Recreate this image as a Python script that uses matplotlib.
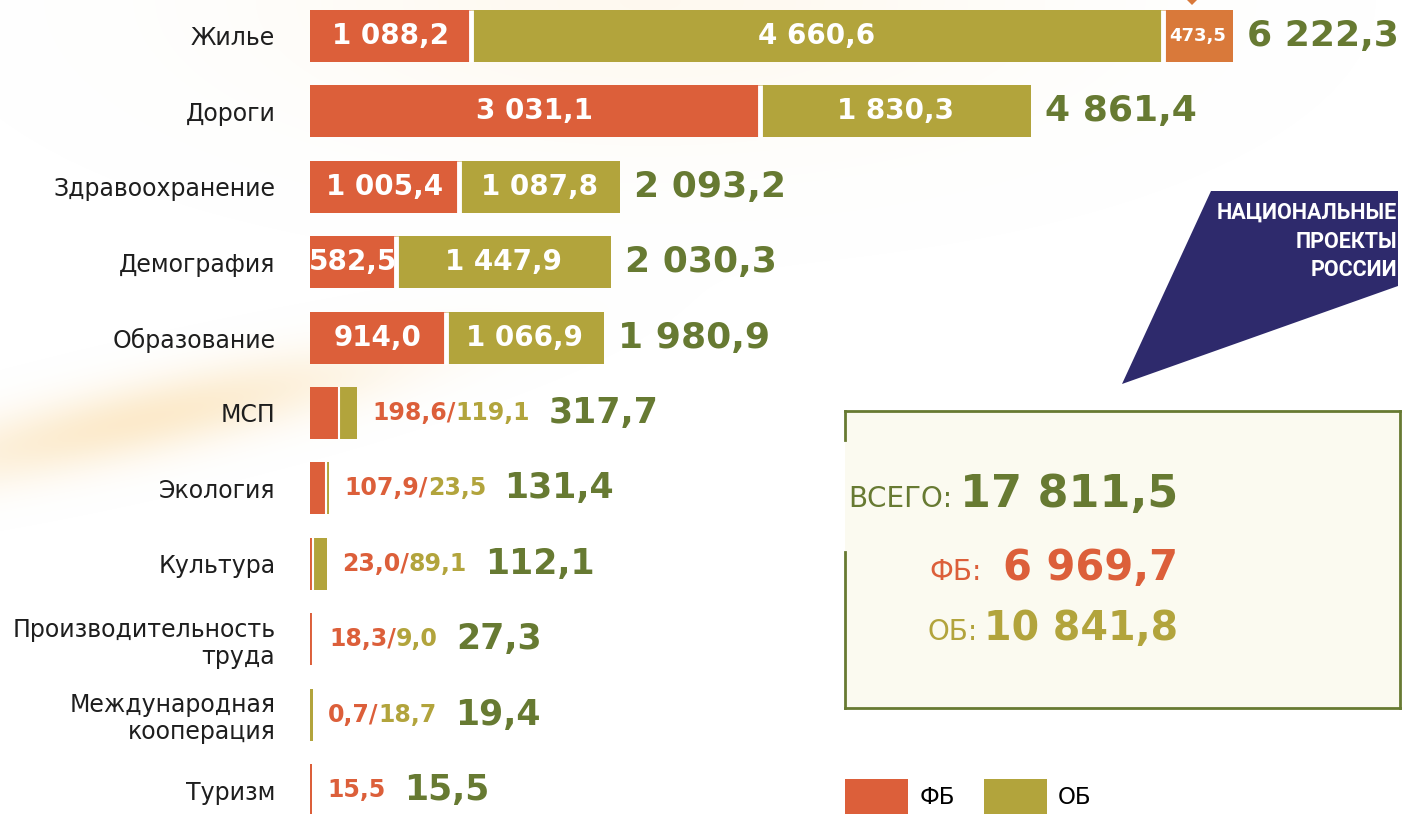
import matplotlib
matplotlib.use("Agg")
import matplotlib.pyplot as plt
import numpy as np
from matplotlib.patches import Polygon, Rectangle, Patch
from matplotlib.lines import Line2D

# data (млн руб.)
categories = ["Жилье", "Дороги", "Здравоохранение", "Демография", "Образование",
              "МСП", "Экология", "Культура", "Производительность\nтруда",
              "Международная\nкооперация", "Туризм"]
fb = [1088.2, 3031.1, 1005.4, 582.5, 914.0, 198.6, 107.9, 23.0, 18.3, 0.7, 15.5]
ob = [4660.6, 1830.3, 1087.8, 1447.9, 1066.9, 119.1, 23.5, 89.1, 9.0, 18.7, 0.0]
other = [473.5, 0, 0, 0, 0, 0, 0, 0, 0, 0, 0]
totals = [6222.3, 4861.4, 2093.2, 2030.3, 1980.9, 317.7, 131.4, 112.1, 27.3, 19.4, 15.5]
sum_all = 17811.5
sum_fb = 6969.7
sum_ob = 10841.8
logo_lines = ["НАЦИОНАЛЬНЫЕ", "ПРОЕКТЫ", "РОССИИ"]

RED = "#dc5f3a"
OLIVE = "#b2a43c"
ORANGE = "#d9793a"
GREEN = "#677a32"
NAVY = "#2e2a6c"
NUMFONT = "DejaVu Sans"

W, H = 1403, 814


def fmt(v):
    return f"{v:,.1f}".replace(",", " ").replace(".", ",")


def fx(x):
    return x / W


def fy(y):
    return 1 - y / H


fig = plt.figure(figsize=(W / 100, H / 100), dpi=100)
fig.patch.set_facecolor("white")

# faint warm glow in the background
bg = fig.add_axes([0, 0, 1, 1], zorder=-10)
yy, xx = np.mgrid[0:H, 0:W]
band = 0.5 * np.exp(-((yy - (450 - 0.22 * xx)) / 38) ** 2) * np.exp(-((xx - 140) / 240) ** 2)
top = 0.15 * np.exp(-((xx - 650) / 380) ** 2 - (yy / 140) ** 2)
glow = np.zeros((H, W, 4))
glow[..., 0] = 0.98
glow[..., 1] = 0.84
glow[..., 2] = 0.60
glow[..., 3] = np.clip(band + top, 0, 1)
bg.imshow(glow, extent=(0, W, H, 0), aspect="auto")
bg.set_xlim(0, W)
bg.set_ylim(H, 0)
bg.axis("off")

# main bar axes
ax = fig.add_axes([fx(310), 0, 1 - fx(310), 1])
ax.patch.set_alpha(0)
ax.set_xlim(0, 7370)
ax.set_ylim(10.318, -0.477)

y = np.arange(len(categories))
fb_a = np.array(fb)
ob_a = np.array(ob)
ot_a = np.array(other)
h = 0.69
ax.barh(y, fb_a, height=h, color=RED, lw=0)
ax.barh(y, ob_a, left=fb_a, height=h, color=OLIVE, lw=0)
ax.barh(y, ot_a, left=fb_a + ob_a, height=h, color=ORANGE, lw=0)

# white gaps between segments
for i in range(len(categories)):
    segs = [fb[i], ob[i], other[i]]
    edge = 0
    gap_lw = 3.5 if totals[i] >= 1000 else 1.5
    for a, b in zip(segs[:-1], segs[1:]):
        edge += a
        if a >= 5 and b >= 5:
            ax.vlines(edge, i - h / 2, i + h / 2, color="white", lw=gap_lw)

ax.set_yticks(y)
ax.set_yticklabels(categories, fontsize=17, color="#1e1e1e", linespacing=1.15)
ax.tick_params(axis="y", length=0, pad=25)
ax.set_xticks([])
for s in ax.spines.values():
    s.set_visible(False)

for i in range(len(categories)):
    if totals[i] >= 1000:
        # values inside the bars
        ax.text(fb[i] / 2, i, fmt(fb[i]), ha="center", va="center", color="white",
                fontsize=20, fontweight="bold", family=NUMFONT)
        ax.text(fb[i] + ob[i] / 2, i, fmt(ob[i]), ha="center", va="center", color="white",
                fontsize=20, fontweight="bold", family=NUMFONT)
        if other[i] > 0:
            ax.text(fb[i] + ob[i] + other[i] / 2, i, fmt(other[i]), ha="center", va="center",
                    color="white", fontsize=13, fontweight="bold", family=NUMFONT)
        ax.annotate(fmt(totals[i]), xy=(fb[i] + ob[i] + other[i], i), xytext=(10, 0),
                    textcoords="offset points", ha="left", va="center", color=GREEN,
                    fontsize=26, fontweight="bold", family=NUMFONT)
    else:
        # small rows: "ФБ/ОБ" next to the bar, then the total
        end = fb[i] + ob[i]
        if ob[i] > 0:
            t1 = ax.annotate(fmt(fb[i]) + "/", xy=(end, i), xytext=(11, 0),
                             textcoords="offset points", ha="left", va="center", color=RED,
                             fontsize=17, fontweight="bold", family=NUMFONT)
            last = ax.annotate(fmt(ob[i]), xy=(1, 0.5), xycoords=t1, xytext=(0, 0),
                               textcoords="offset points", ha="left", va="center", color=OLIVE,
                               fontsize=17, fontweight="bold", family=NUMFONT)
        else:
            last = ax.annotate(fmt(fb[i]), xy=(end, i), xytext=(11, 0),
                               textcoords="offset points", ha="left", va="center", color=RED,
                               fontsize=17, fontweight="bold", family=NUMFONT)
        ax.annotate(fmt(totals[i]), xy=(1, 0.5), xycoords=last, xytext=(13, 0),
                    textcoords="offset points", ha="left", va="center", color=GREEN,
                    fontsize=25, fontweight="bold", family=NUMFONT)

# small pointer above the third segment of the first bar
fig.patches.append(Polygon([(fx(1187), fy(0)), (fx(1197), fy(0)), (fx(1192), fy(5))], closed=True,
                           transform=fig.transFigure, facecolor=ORANGE, edgecolor="none"))

# logo
logo = Polygon([(fx(1211), fy(191)), (fx(1398), fy(191)), (fx(1398), fy(286)), (fx(1122), fy(384))],
               closed=True, transform=fig.transFigure, facecolor=NAVY, edgecolor="none",
               joinstyle="round")
fig.patches.append(logo)
for k, line in enumerate(logo_lines):
    fig.text(fx(1397), fy(219 + 28.5 * k), line, ha="right", va="baseline", color="white",
             fontsize=15.5, fontweight="bold", family=["Roboto", "DejaVu Sans"])

# summary box
fig.patches.append(Rectangle((fx(845), fy(708)), fx(1400) - fx(845), fy(411) - fy(708),
                             transform=fig.transFigure, facecolor="#fbfaf0", edgecolor="none"))
box_lines = [[(845, 411), (1400, 411)], [(1400, 411), (1400, 708)], [(845, 708), (1400, 708)],
             [(845, 411), (845, 440)], [(845, 552), (845, 708)]]
for (x0, y0), (x1, y1) in box_lines:
    fig.lines.append(Line2D([fx(x0), fx(x1)], [fy(y0), fy(y1)], transform=fig.transFigure,
                            color=GREEN, lw=2))

fig.text(fx(952), fy(507), "ВСЕГО:", ha="right", va="baseline", color=GREEN, fontsize=20)
fig.text(fx(1178), fy(507), fmt(sum_all), ha="right", va="baseline", color=GREEN,
         fontsize=32, fontweight="bold", family=NUMFONT)
fig.text(fx(982), fy(580), "ФБ:", ha="right", va="baseline", color=RED, fontsize=20)
fig.text(fx(1178), fy(580), fmt(sum_fb), ha="right", va="baseline", color=RED,
         fontsize=30, fontweight="bold", family=NUMFONT)
fig.text(fx(978), fy(640), "ОБ:", ha="right", va="baseline", color=OLIVE, fontsize=20)
fig.text(fx(1178), fy(640), fmt(sum_ob), ha="right", va="baseline", color=OLIVE,
         fontsize=28.5, fontweight="bold", family=NUMFONT)

# legend
handles = [Patch(facecolor=RED, edgecolor="none", label="ФБ"),
           Patch(facecolor=OLIVE, edgecolor="none", label="ОБ")]
fig.legend(handles=handles, loc="lower left", bbox_to_anchor=(fx(845), 0), ncol=2,
           frameon=False, fontsize=16.5, handlelength=2.75, handleheight=2.0,
           handletextpad=0.5, columnspacing=1.25, borderpad=0, borderaxespad=0)

plt.savefig("out.png", dpi=100)
